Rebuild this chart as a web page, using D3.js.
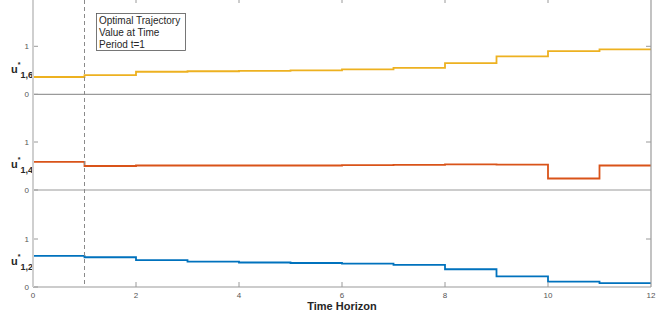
<!DOCTYPE html>
<html>
<head>
<meta charset="utf-8">
<script src="https://cdn.jsdelivr.net/npm/d3@7"></script>
<style>
  html, body { margin: 0; padding: 0; background: #fff; }
  svg { display: block; }
</style>
</head>
<body>
<svg id="chart"></svg>
<script>
// one value per period t = 0..11, held until the next period
const periods = d3.range(0, 12);
const u16 = [0.36, 0.40, 0.47, 0.48, 0.49, 0.50, 0.52, 0.55, 0.65, 0.79, 0.90, 0.935];
const u14 = [0.585, 0.50, 0.51, 0.51, 0.51, 0.51, 0.52, 0.525, 0.535, 0.53, 0.24, 0.51];
const u12 = [0.65, 0.62, 0.56, 0.53, 0.51, 0.50, 0.485, 0.46, 0.37, 0.22, 0.11, 0.08];
const xTicks = [0, 2, 4, 6, 8, 10, 12];
const yTicks = [0, 1];
const panelNames = ["1,6", "1,4", "1,2"];
const panelColors = ["#EDB120", "#D95319", "#0072BD"];
const noteLines = ["Optimal Trajectory", "Value at Time", "Period t=1"];

const width = 665, height = 322;
const margin = { left: 33, right: 14 };
const zeros = [94.3, 190, 287];
const panelH = 96;

const svg = d3.select("#chart").attr("width", width).attr("height", height)
  .attr("font-family", "'Liberation Sans', Arial, sans-serif");

const x = d3.scaleLinear().domain([0, 12]).range([margin.left, width - margin.right]);

const series = [u16, u14, u12];
const axisGray = "#9a9a9a";

series.forEach((vals, i) => {
  const y = d3.scaleLinear().domain([0, 2]).range([zeros[i], zeros[i] - panelH]);
  const g = svg.append("g");

  // zero / bottom line of each panel
  g.append("line")
    .attr("x1", x(0)).attr("x2", x(12))
    .attr("y1", y(0)).attr("y2", y(0))
    .attr("stroke", axisGray).attr("stroke-width", 1.2);

  // y ticks, left (inward) and right (inward)
  g.selectAll(".yt").data(yTicks).join("line")
    .attr("x1", x(0)).attr("x2", x(0) + 5)
    .attr("y1", d => y(d)).attr("y2", d => y(d))
    .attr("stroke", axisGray);
  g.selectAll(".ytr").data(yTicks.filter(d => d > 0)).join("line")
    .attr("x1", x(12) - 5).attr("x2", x(12))
    .attr("y1", d => y(d)).attr("y2", d => y(d))
    .attr("stroke", axisGray);
  g.selectAll(".ytl").data(yTicks).join("text")
    .attr("x", x(0) - 4).attr("y", d => y(d)).attr("dy", "0.35em")
    .attr("text-anchor", "end").attr("font-size", 8).attr("fill", "#555")
    .text(d => d);

  // step trajectory
  const pts = periods.map((t, k) => [t, vals[k]]);
  pts.push([12, vals[vals.length - 1]]);
  g.append("path")
    .datum(pts)
    .attr("fill", "none")
    .attr("stroke", panelColors[i])
    .attr("stroke-width", 1.8)
    .attr("d", d3.line().x(d => x(d[0])).y(d => y(d[1])).curve(d3.curveStepAfter));

  // label u*_{1,k} as one text element
  const lab = g.append("text").attr("font-weight", "bold").attr("fill", "#262626")
    .attr("x", 11).attr("y", y(0.45));
  lab.append("tspan").attr("font-size", 11).text("u");
  lab.append("tspan").attr("font-size", 7).attr("dy", -6).text("*");
  lab.append("tspan").attr("font-size", 9).attr("dy", 11).text(panelNames[i]);
});

// outer frame: left and right axes
svg.append("line")
  .attr("x1", x(0)).attr("x2", x(0)).attr("y1", 0).attr("y2", zeros[2])
  .attr("stroke", "#cfcfcf").attr("stroke-width", 2);
svg.append("line")
  .attr("x1", x(12)).attr("x2", x(12)).attr("y1", 0).attr("y2", zeros[2])
  .attr("stroke", axisGray).attr("stroke-width", 1.2);

// x ticks at the top and the bottom
const inner = xTicks.filter(d => d > 0 && d < 12);
svg.selectAll(".xtTop").data(inner).join("line")
  .attr("x1", d => x(d)).attr("x2", d => x(d))
  .attr("y1", 0).attr("y2", 3)
  .attr("stroke", axisGray);
svg.selectAll(".xtBot").data(inner).join("line")
  .attr("x1", d => x(d)).attr("x2", d => x(d))
  .attr("y1", zeros[2]).attr("y2", zeros[2] - 5)
  .attr("stroke", axisGray);
svg.selectAll(".xtl").data(xTicks).join("text")
  .attr("x", d => x(d)).attr("y", zeros[2] + 11)
  .attr("text-anchor", "middle").attr("font-size", 8).attr("fill", "#555")
  .text(d => d);

svg.append("text")
  .attr("x", x(6)).attr("y", 310)
  .attr("text-anchor", "middle").attr("font-size", 11)
  .attr("font-weight", "bold").attr("fill", "#262626")
  .text("Time Horizon");

// dashed marker at t = 1
svg.append("line")
  .attr("x1", x(1)).attr("x2", x(1)).attr("y1", 0).attr("y2", zeros[2])
  .attr("stroke", "#8a8a8a").attr("stroke-width", 1)
  .attr("stroke-dasharray", "4,3");

// annotation box
const note = svg.append("g");
note.append("rect")
  .attr("x", 96.5).attr("y", 13.5).attr("width", 89).attr("height", 37)
  .attr("fill", "#fff").attr("stroke", "#555").attr("stroke-width", 0.8);
note.selectAll("text").data(noteLines).join("text")
  .attr("x", 99).attr("y", (d, i) => 24 + i * 12)
  .attr("font-size", 10).attr("fill", "#262626")
  .text(d => d);
</script>
</body>
</html>
